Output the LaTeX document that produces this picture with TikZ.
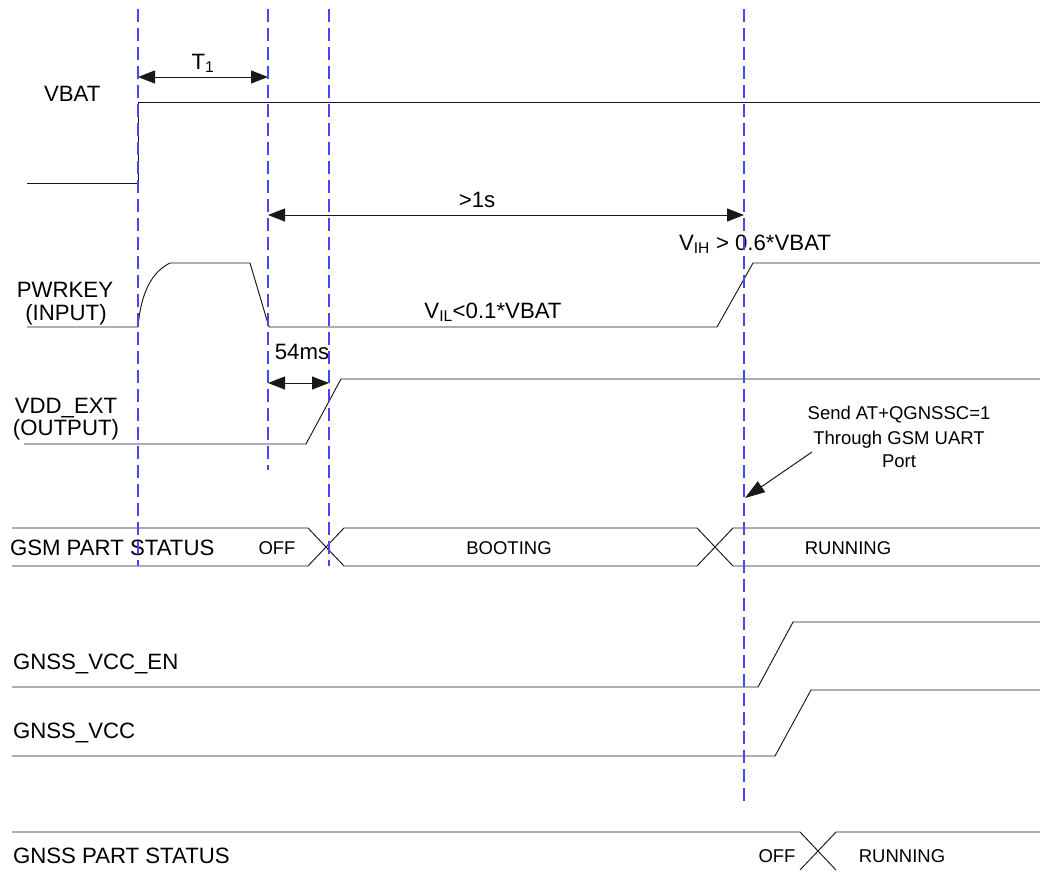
\documentclass[tikz,border=0pt]{standalone}
\usepackage{fontspec}
\setmainfont{Liberation Sans}
\usetikzlibrary{arrows.meta}
\definecolor{guide}{RGB}{70,70,245}
\definecolor{ink}{RGB}{25,25,25}
\tikzset{
  sig/.style={line width=0.95pt, ink, line join=miter},
  guideline/.style={guide, line width=1.25pt, dash pattern=on 13pt off 6pt},
  dimarrow/.style={line width=1pt, ink, {Triangle[length=17pt,width=13pt]}-{Triangle[length=17pt,width=13pt]}},
  callout/.style={line width=1pt, ink, -{Triangle[length=20pt,width=13pt]}},
  big/.style={font=\fontsize{22.2}{26}\selectfont, inner sep=0pt, outer sep=0pt},
  small/.style={font=\fontsize{18.5}{22}\selectfont, inner sep=0pt, outer sep=0pt}
}
\begin{document}
\begin{tikzpicture}[x=1pt,y=-1pt]
\useasboundingbox (0,0) rectangle (1040,870);

% ---- waveforms ----
% VBAT
\draw[sig] (27,183) -- (138,183) -- (138,102) -- (1040,102);
% PWRKEY
\draw[sig] (27,327) -- (138,327) .. controls (141,292) and (152,272) .. (170,263)
  -- (250,263) -- (269,327) -- (717,327) -- (753,263) -- (1040,263);
% VDD_EXT
\draw[sig] (24,444) -- (306,444) -- (341,379) -- (1040,379);
% GSM part status bus
\draw[sig] (12,528) -- (308,528) -- (344,566) -- (697,566) -- (733,528) -- (1040,528);
\draw[sig] (12,566) -- (308,566) -- (344,528) -- (697,528) -- (733,566) -- (1040,566);
% GNSS_VCC_EN
\draw[sig] (12,687) -- (758,687) -- (793,622) -- (1040,622);
% GNSS_VCC
\draw[sig] (12,756) -- (775,756) -- (811,690) -- (1040,690);
% GNSS part status bus
\draw[sig] (12,832) -- (800,832) -- (836,870);
\draw[sig] (800,870) -- (836,832) -- (1040,832);

% ---- labels ----
\node[big, anchor=base west] (lvbat) at (44,101) {VBAT};
\node[big, anchor=base] (lpwr1) at (65,297) {PWRKEY};
\node[big, anchor=base] (lpwr2) at (66,320) {(INPUT)};
\node[big, anchor=base] (lvdd1) at (66,413) {VDD\_EXT};
\node[big, anchor=base] (lvdd2) at (66,435) {(OUTPUT)};
\node[big, anchor=base west] (lgsm) at (10,555) {GSM PART STATUS};
\node[big, anchor=base west] (lvccen) at (13,669) {GNSS\_VCC\_EN};
\node[big, anchor=base west] (lvcc) at (13,738) {GNSS\_VCC};
\node[big, anchor=base west] (lgnss) at (13,863) {GNSS PART STATUS};

\node[big, anchor=base] (lt1) at (203,69) {T\textsubscript{1}};
\node[big, anchor=base] (l1s) at (477,207) {>1s};
\node[big, anchor=base] (l54) at (302,359) {54ms};
\node[big, anchor=base] (lvil) at (493,318) {V\textsubscript{IL}<0.1*VBAT};
\node[big, anchor=base west] (lvih) at (679,250) {V\textsubscript{IH} > 0.6*VBAT};

\node[small, anchor=base] (soff) at (277,554) {OFF};
\node[small, anchor=base] (sboot) at (509,554) {BOOTING};
\node[small, anchor=base] (srun) at (848,554) {RUNNING};
\node[small, anchor=base] (goff) at (777,862) {OFF};
\node[small, anchor=base] (grun) at (902,862) {RUNNING};

\node[small, anchor=base] (send1) at (899,419) {Send AT+QGNSSC=1};
\node[small, anchor=base] (send2) at (899,444) {Through GSM UART};
\node[small, anchor=base] (send3) at (899,467) {Port};

% ---- dimension arrows ----
\coordinate (t1a) at (138,77);  \coordinate (t1b) at (268,77);
\coordinate (s1a) at (268,215); \coordinate (s1b) at (744,215);
\coordinate (m54a) at (268,383); \coordinate (m54b) at (329,383);
\draw[dimarrow] (t1a) -- (t1b);
\draw[dimarrow] (s1a) -- (s1b);
\draw[dimarrow] (m54a) -- (m54b);
\coordinate (cfrom) at (812,452); \coordinate (cto) at (745,498);
\draw[callout] (cfrom) -- (cto);

% ---- guide lines ----
\coordinate (ga1) at (138,9); \coordinate (ga2) at (138,566);
\coordinate (gb1) at (268,9); \coordinate (gb2) at (268,470);
\coordinate (gc1) at (329,9); \coordinate (gc2) at (329,566);
\coordinate (gd1) at (744,9); \coordinate (gd2) at (744,802);
\draw[guideline] (ga1) -- (ga2);
\draw[guideline] (gb1) -- (gb2);
\draw[guideline] (gc1) -- (gc2);
\draw[guideline] (gd1) -- (gd2);
\end{tikzpicture}
\end{document}
